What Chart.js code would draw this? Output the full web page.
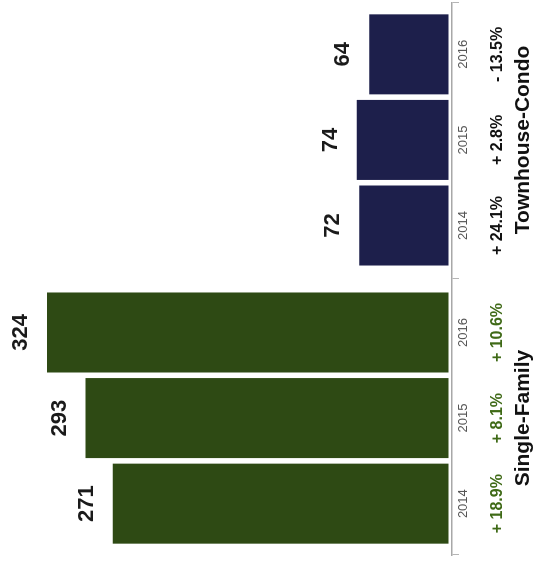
<!DOCTYPE html>
<html>
<head>
<meta charset="utf-8">
<script src="https://cdn.jsdelivr.net/npm/chart.js@4"></script>
<style>
  body { margin: 0; background: #fff; overflow: hidden; }
  /* the chart is drawn upright, then turned a quarter left like the printed page */
  #wrap { position: absolute; left: 0; top: 567px; width: 567px; height: 533px;
          transform-origin: 0 0; transform: rotate(-90deg); }
</style>
</head>
<body>
<div id="wrap"><canvas id="salesChart" width="567" height="533"></canvas></div>
<script>
let years = ['2014', '2015', '2016'];
let groups = ['Single-Family', 'Townhouse-Condo'];
let sfValues = [271, 293, 324];
let thValues = [72, 74, 64];
let sfChanges = ['+ 18.9%', '+ 8.1%', '+ 10.6%'];
let thChanges = ['+ 24.1%', '+ 2.8%', '- 13.5%'];

let groupOffset = 3.25; // second group starts a bit after the first
let font = '"Liberation Sans", Arial, sans-serif';

let labelPlugin = {
  id: 'labels',
  afterDatasetsDraw(chart) {
    let ctx = chart.ctx;
    let changes = [sfChanges, thChanges];
    let changeColors = ['#3f6a17', '#111111'];
    ctx.save();
    ctx.textAlign = 'center';
    ctx.textBaseline = 'middle';
    chart.data.datasets.forEach(function(ds, d) {
      let bars = chart.getDatasetMeta(d).data;
      bars.forEach(function(bar, i) {
        ctx.fillStyle = '#1a1a1a';
        ctx.font = 'bold 22px ' + font;
        ctx.fillText(ds.data[i].y, bar.x, bar.y - 26);

        ctx.fillStyle = '#555';
        ctx.font = '13px ' + font;
        ctx.fillText(years[i], bar.x, 463);

        ctx.fillStyle = changeColors[d];
        ctx.font = 'bold 16px ' + font;
        ctx.fillText(changes[d][i], bar.x, 498);
      });
      ctx.fillStyle = '#111';
      ctx.font = 'bold 21px ' + font;
      ctx.fillText(groups[d], bars[1].x, 523);
    });
    ctx.restore();
  }
};

let myChart = document.getElementById('salesChart').getContext('2d');

let chart = new Chart(myChart, {
  type: 'bar',
  data: {
    datasets: [{
      label: groups[0],
      data: sfValues.map(function(v, i) { return {x: i, y: v}; }),
      backgroundColor: '#2e4a14',
      grouped: false
    }, {
      label: groups[1],
      data: thValues.map(function(v, i) { return {x: i + groupOffset, y: v}; }),
      backgroundColor: '#1d1f4b',
      grouped: false
    }]
  },
  options: {
    responsive: false,
    animation: false,
    layout: { padding: { top: 0, left: 12, right: 3, bottom: 74 } },
    datasets: { bar: { barPercentage: 0.935, categoryPercentage: 1 } },
    plugins: { legend: { display: false }, tooltip: { enabled: false } },
    scales: {
      x: {
        type: 'linear',
        offset: false,
        min: -0.6,
        max: 5.85,
        afterBuildTicks: function(axis) {
          axis.ticks = [{value: -0.6}, {value: 2.625}, {value: 5.85}];
        },
        ticks: { display: false },
        grid: { offset: false, drawOnChartArea: false, drawTicks: true, tickLength: 7, color: '#b5b5b5' },
        border: { display: true, color: '#a8a8a8', width: 1.5 }
      },
      y: {
        display: false,
        min: -2.8,
        max: 362
      }
    }
  },
  plugins: [labelPlugin]
});
</script>
</body>
</html>
